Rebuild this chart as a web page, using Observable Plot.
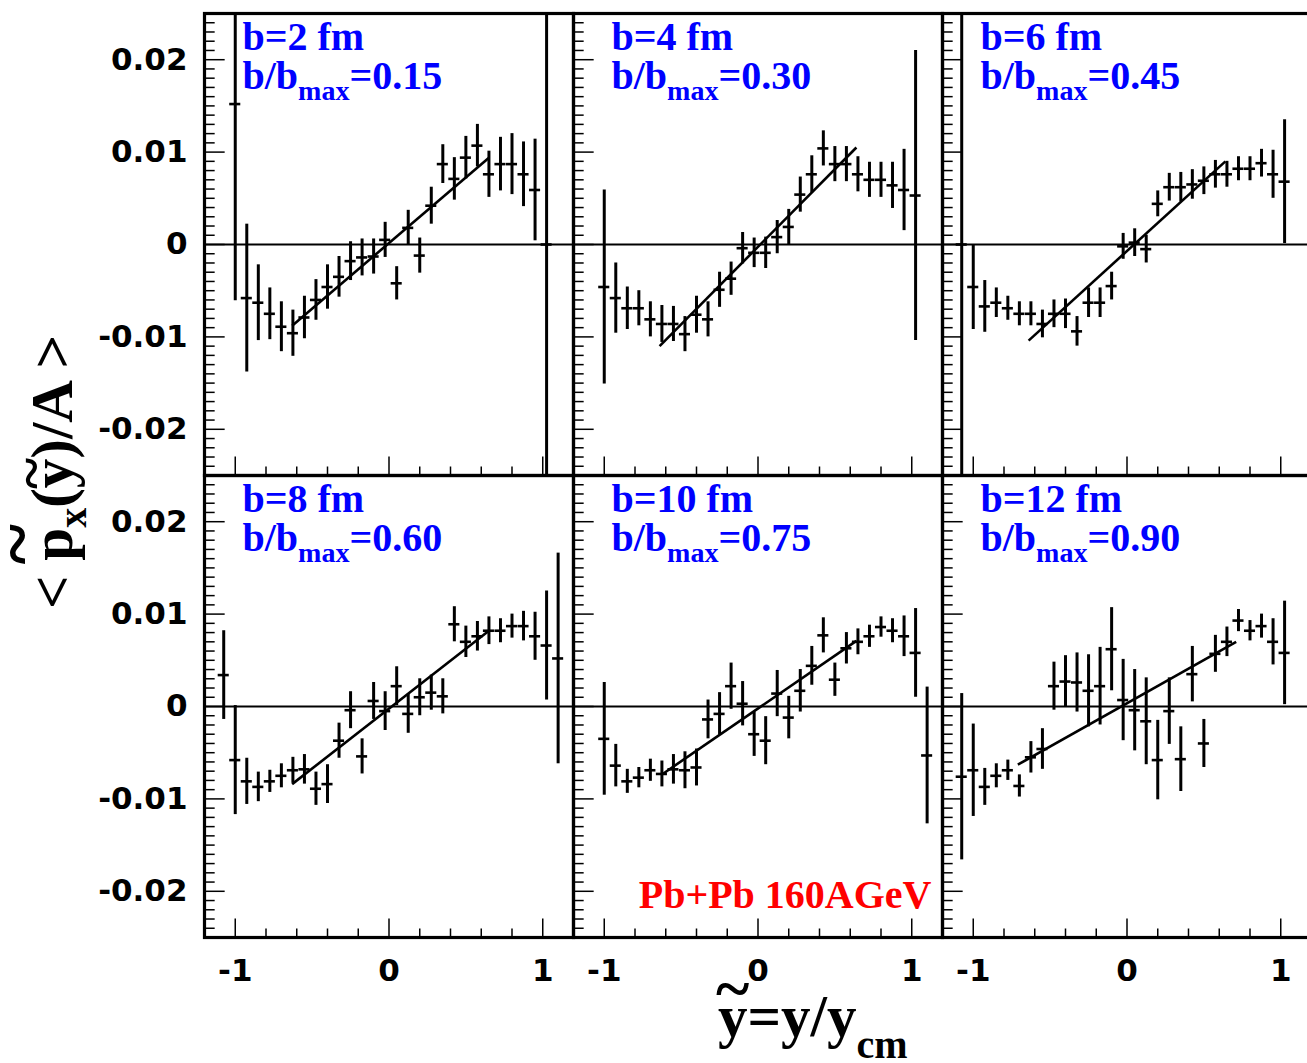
<!DOCTYPE html>
<html><head><meta charset="utf-8">
<script src="https://cdn.jsdelivr.net/npm/d3@7"></script>
<script src="https://cdn.jsdelivr.net/npm/@observablehq/plot@0.6"></script>
<style>
html,body{margin:0;padding:0;background:#fff;overflow:hidden;}
#chart{width:1307px;height:1063px;}
</style></head><body><div id="chart"></div>
<script>
// bin centres of y~ = y / y_cm
const xCenters = [-1.075,-1.0,-0.925,-0.85,-0.775,-0.7,-0.625,-0.55,-0.475,-0.4,-0.325,-0.25,-0.175,-0.1,-0.025,0.05,0.125,0.2,0.275,0.35,0.425,0.5,0.575,0.65,0.725,0.8,0.875,0.95,1.025,1.1];

const b2Vals = [null,0.0152,-0.0058,-0.0063,-0.0075,-0.0089,-0.0096,-0.0079,-0.0060,-0.0046,-0.0035,-0.0018,-0.0014,-0.0013,0.0005,-0.0042,0.0018,-0.0012,0.0042,0.0087,0.0071,0.0094,0.0107,0.0076,0.0087,0.0087,0.0076,0.0059,0.0000,null];
const b2Errs = [null,0.0213,0.0080,0.0041,0.0028,0.0027,0.0025,0.0023,0.0022,0.0024,0.0022,0.0021,0.0020,0.0019,0.0019,0.0018,0.0019,0.0019,0.0020,0.0021,0.0023,0.0023,0.0023,0.0025,0.0029,0.0033,0.0035,0.0055,0.0300,null];

const b4Vals = [null,-0.0046,-0.0058,-0.0069,-0.0069,-0.0081,-0.0086,-0.0086,-0.0097,-0.0076,-0.0081,-0.0049,-0.0037,-0.0004,-0.0009,-0.0009,0.0008,0.0019,0.0054,0.0076,0.0104,0.0087,0.0087,0.0076,0.0070,0.0070,0.0064,0.0059,0.0053,null];
const b4Errs = [null,0.0105,0.0038,0.0023,0.0019,0.0019,0.0020,0.0019,0.0019,0.0020,0.0019,0.0019,0.0018,0.0017,0.0016,0.0017,0.0018,0.0019,0.0019,0.0020,0.0019,0.0019,0.0019,0.0019,0.0019,0.0019,0.0025,0.0044,0.0157,null];

const b6Vals = [0.0000,-0.0046,-0.0067,-0.0063,-0.0069,-0.0075,-0.0075,-0.0086,-0.0075,-0.0075,-0.0094,-0.0063,-0.0063,-0.0045,-0.0002,0.0002,-0.0005,0.0044,0.0062,0.0062,0.0065,0.0069,0.0076,0.0076,0.0082,0.0082,0.0088,0.0076,0.0068,null];
const b6Errs = [0.0300,0.0046,0.0028,0.0016,0.0013,0.0013,0.0013,0.0015,0.0015,0.0016,0.0016,0.0016,0.0016,0.0015,0.0014,0.0015,0.0015,0.0014,0.0015,0.0016,0.0016,0.0015,0.0015,0.0014,0.0013,0.0013,0.0015,0.0026,0.0067,null];

const b8Vals = [0.0034,-0.0058,-0.0081,-0.0087,-0.0081,-0.0075,-0.0069,-0.0068,-0.0089,-0.0084,-0.0037,-0.0004,-0.0054,0.0006,-0.0005,0.0022,-0.0008,0.0010,0.0015,0.0011,0.0089,0.0070,0.0076,0.0082,0.0082,0.0087,0.0087,0.0076,0.0066,0.0052];
const b8Errs = [0.0048,0.0059,0.0025,0.0016,0.0012,0.0013,0.0014,0.0016,0.0018,0.0021,0.0019,0.0020,0.0019,0.0020,0.0021,0.0021,0.0021,0.0020,0.0019,0.0019,0.0019,0.0017,0.0016,0.0015,0.0013,0.0013,0.0016,0.0026,0.0059,0.0114];

const b10Vals = [null,-0.0035,-0.0064,-0.0081,-0.0077,-0.0069,-0.0073,-0.0068,-0.0069,-0.0066,-0.0014,-0.0008,0.0022,0.0003,-0.0030,-0.0037,0.0014,-0.0012,0.0017,0.0044,0.0077,0.0029,0.0063,0.0070,0.0076,0.0086,0.0082,0.0076,0.0058,-0.0053];
const b10Errs = [null,0.0061,0.0023,0.0013,0.0011,0.0012,0.0014,0.0016,0.0020,0.0020,0.0021,0.0023,0.0025,0.0024,0.0024,0.0026,0.0025,0.0023,0.0023,0.0021,0.0019,0.0018,0.0017,0.0014,0.0012,0.0011,0.0013,0.0022,0.0048,0.0074];

const b12Vals = [-0.0076,-0.0069,-0.0087,-0.0075,-0.0069,-0.0086,-0.0055,-0.0046,0.0022,0.0027,0.0026,0.0017,0.0022,0.0062,0.0007,-0.0004,-0.0016,-0.0058,-0.0005,-0.0057,0.0035,-0.0040,0.0057,0.0070,0.0093,0.0082,0.0087,0.0070,0.0058,null];
const b12Errs = [0.0090,0.0050,0.0020,0.0013,0.0011,0.0012,0.0017,0.0022,0.0026,0.0028,0.0032,0.0039,0.0042,0.0045,0.0044,0.0044,0.0047,0.0043,0.0036,0.0035,0.0030,0.0026,0.0020,0.0016,0.0012,0.0011,0.0013,0.0025,0.0056,null];

// linear fits per panel
const fitX1 = [-0.63,-0.64,-0.64,-0.63,-0.62,-0.71];
const fitY1 = [-0.0088,-0.0110,-0.0104,-0.0084,-0.0073,-0.0063];
const fitX2 = [0.65,0.64,0.64,0.65,0.64,0.71];
const fitY2 = [0.0094,0.0105,0.0090,0.0082,0.0071,0.0070];

const bLabels = ["b=2 fm","b=4 fm","b=6 fm","b=8 fm","b=10 fm","b=12 fm"];
const ratioLabels = ["0.15","0.30","0.45","0.60","0.75","0.90"];
const systemLabel = "Pb+Pb 160AGeV";

const yTickValues = [-0.02,-0.01,0,0.01,0.02];
const xTickValues = [-1,0,1];
const xMinorTicks = [-0.8,-0.6,-0.4,-0.2,0.2,0.4,0.6,0.8];
const yMinorTicks = d3.range(-25, 26).filter(i => i % 10 !== 0).map(i => i / 1000);

const allVals = [b2Vals,b4Vals,b6Vals,b8Vals,b10Vals,b12Vals];
const allErrs = [b2Errs,b4Errs,b6Errs,b8Errs,b10Errs,b12Errs];

const points = [];
allVals.forEach((vals, p) => {
  vals.forEach((v, k) => {
    if (v !== null) points.push({fx: p % 3, fy: Math.floor(p / 3), x: xCenters[k], y: v, e: allErrs[p][k]});
  });
});
const panels = bLabels.map((b, p) => ({fx: p % 3, fy: Math.floor(p / 3), b, r: ratioLabels[p],
  x1: fitX1[p], y1: fitY1[p], x2: fitX2[p], y2: fitY2[p]}));

const W = 1307, Hh = 1063, mL = 203, mR = -4, mT = 12, mB = 126;
const panelW = (W - mL - mR) / 3;
const panelH = (Hh - mT - mB) / 2;
const serif = "'Liberation Serif','Times New Roman',serif";
const sans = "'DejaVu Sans','Liberation Sans',sans-serif";
const halfBin = 0.036;

const chart = Plot.plot({
  width: W, height: Hh,
  marginLeft: mL, marginRight: mR, marginTop: mT, marginBottom: mB,
  x: {domain: [-1.2, 1.2]},
  y: {domain: [-0.025, 0.025]},
  fx: {domain: [0,1,2], padding: 0, axis: null},
  fy: {domain: [0,1], padding: 0, axis: null},
  style: {background: "white", color: "black"},
  marks: [
    Plot.ruleY([0], {stroke: "black", strokeWidth: 2}),
    Plot.ruleX(points, {fx: "fx", fy: "fy", x: "x", y1: d => d.y - d.e, y2: d => d.y + d.e, stroke: "black", strokeWidth: 3, clip: true}),
    Plot.ruleY(points, {fx: "fx", fy: "fy", y: "y", x1: d => d.x - halfBin, x2: d => d.x + halfBin, stroke: "black", strokeWidth: 2.6, clip: true}),
    Plot.link(panels, {fx: "fx", fy: "fy", x1: "x1", y1: "y1", x2: "x2", y2: "y2", stroke: "black", strokeWidth: 2.6}),
    Plot.tickY(yMinorTicks, {y: d => d, insetRight: panelW - 11, stroke: "black", strokeWidth: 1.5}),
    Plot.tickY(yTickValues, {y: d => d, insetRight: panelW - 21, stroke: "black", strokeWidth: 1.5}),
    Plot.tickX(xMinorTicks, {x: d => d, insetTop: panelH - 9, stroke: "black", strokeWidth: 1.5}),
    Plot.tickX(xTickValues, {x: d => d, insetTop: panelH - 19, stroke: "black", strokeWidth: 1.5}),
    Plot.frame({stroke: "black", strokeWidth: 3.2}),
    Plot.text(panels, {fx: "fx", fy: "fy", text: "b", frameAnchor: "top-left", lineAnchor: "middle", textAnchor: "start", dx: 38, dy: 24,
      fill: "#0000ff", fontSize: 40, fontWeight: "bold", fontFamily: serif}),
    Plot.text(panels, {fx: "fx", fy: "fy", text: d => "b/b_max=" + d.r, frameAnchor: "top-left", lineAnchor: "middle", textAnchor: "start", dx: 38, dy: 63,
      fill: "#0000ff", fontSize: 40, fontWeight: "bold", fontFamily: serif}),
    Plot.text([systemLabel], {fx: () => 1, fy: () => 1, text: d => d, frameAnchor: "bottom-right", lineAnchor: "middle", textAnchor: "end", dx: -11, dy: -42,
      fill: "#ff0000", fontSize: 40, fontWeight: "bold", fontFamily: serif}),
    Plot.axisY({ticks: yTickValues, tickSize: 0, tickPadding: 17, tickFormat: d => d === 0 ? "0" : d.toFixed(2),
      fontSize: 31, fontWeight: "bold", fontFamily: sans, label: null}),
    Plot.axisX({ticks: xTickValues, tickSize: 0, tickPadding: 21, tickFormat: d => String(d),
      fontSize: 31, fontWeight: "bold", fontFamily: sans, label: null})
  ]
});
document.getElementById("chart").appendChild(chart);

const svg = d3.select(chart);
// subscript in panel labels
svg.selectAll("text").each(function() {
  const t = this.textContent;
  if (t.startsWith("b/b_max")) {
    const rest = t.slice(7);
    const sel = d3.select(this);
    sel.text(null);
    sel.append("tspan").text("b/b");
    sel.append("tspan").attr("font-size", 28).attr("dy", 11).text("max");
    sel.append("tspan").attr("font-size", 40).attr("dy", -11).text(rest);
  }
});

// y axis title (rotated)
const gy = svg.append("g").attr("transform", "translate(72,472) rotate(-90)")
  .attr("font-family", serif).attr("font-weight", "bold").attr("fill", "black");
const ty = gy.append("text").attr("text-anchor", "middle").attr("font-size", 59);
ty.append("tspan").text("< p");
ty.append("tspan").attr("font-size", 40).attr("dy", 14).text("x");
ty.append("tspan").attr("dy", -14).text("(y)/A >");
try {
  const rp = ty.node().getExtentOfChar(2);
  gy.append("text").attr("text-anchor", "middle").attr("font-size", 78)
    .attr("x", rp.x + rp.width / 2).attr("y", -29).text("~");
  const ry = ty.node().getExtentOfChar(5);
  gy.append("text").attr("text-anchor", "middle").attr("font-size", 60)
    .attr("x", ry.x + ry.width / 2).attr("y", -21).text("~");
} catch (e) {}

// x axis title
const gx = svg.append("g").attr("font-family", serif).attr("font-weight", "bold").attr("fill", "black");
const tx = gx.append("text").attr("text-anchor", "start").attr("x", 718).attr("y", 1036).attr("font-size", 59);
tx.append("tspan").text("y=y/y");
tx.append("tspan").attr("font-size", 40).attr("dy", 22).text("cm");
try {
  const r0 = tx.node().getExtentOfChar(0);
  gx.append("text").attr("text-anchor", "middle").attr("font-size", 64)
    .attr("x", r0.x + r0.width / 2).attr("y", 1036 - 26).text("~");
} catch (e) {}
</script>
</body></html>
